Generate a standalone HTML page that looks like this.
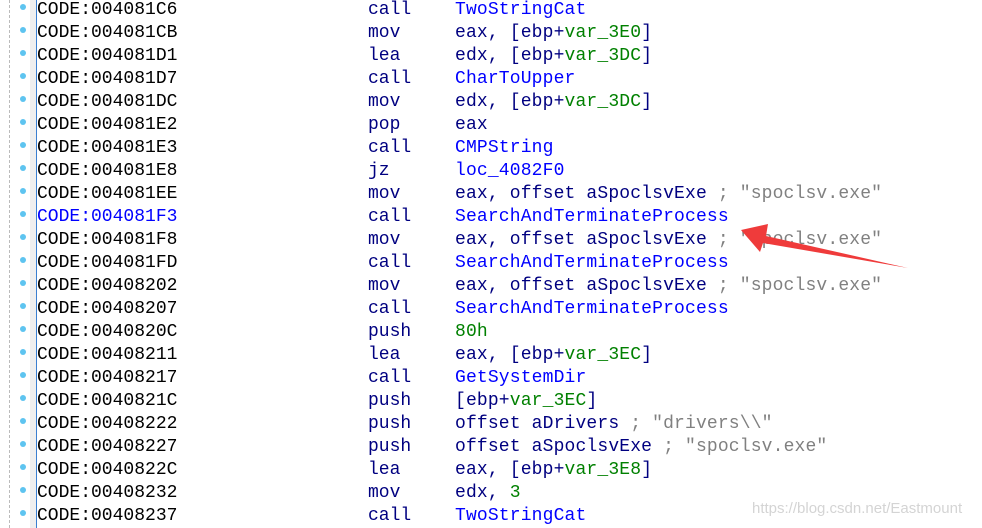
<!DOCTYPE html>
<html><head><meta charset="utf-8"><style>
body{margin:0;width:982px;height:528px;background:#fff;overflow:hidden;position:relative;font-family:"Liberation Mono",monospace;}
.r{position:absolute;left:0;height:23px;line-height:23px;font-size:18px;white-space:pre;width:982px}
.a{position:absolute;left:37px;color:#000}
.m{position:absolute;left:368px;color:#000080}
.o{position:absolute;left:455px;color:#000080;letter-spacing:0.15px}
.n{color:#0000ff}.g{color:#008000}.c{color:#808080}
.d{position:absolute;left:20px;top:5px;width:6px;height:6px;border-radius:50%;background:#5ec4f0}
</style></head><body>
<div style="position:absolute;left:9px;top:0;height:528px;border-left:1px dashed #bbb"></div>
<div style="position:absolute;left:30px;top:0;width:6px;height:528px;background:#efefef"></div>
<div style="position:absolute;left:36px;top:0;width:1px;height:528px;background:#3b7fd0"></div>
<div class="r" style="top:-1px"><i class="d"></i><span class="a">CODE:004081C6</span><span class="m">call</span><span class="o n">TwoStringCat</span></div>
<div class="r" style="top:22px"><i class="d"></i><span class="a">CODE:004081CB</span><span class="m">mov</span><span class="o">eax, [ebp+<span class="g">var_3E0</span>]</span></div>
<div class="r" style="top:45px"><i class="d"></i><span class="a">CODE:004081D1</span><span class="m">lea</span><span class="o">edx, [ebp+<span class="g">var_3DC</span>]</span></div>
<div class="r" style="top:68px"><i class="d"></i><span class="a">CODE:004081D7</span><span class="m">call</span><span class="o n">CharToUpper</span></div>
<div class="r" style="top:91px"><i class="d"></i><span class="a">CODE:004081DC</span><span class="m">mov</span><span class="o">edx, [ebp+<span class="g">var_3DC</span>]</span></div>
<div class="r" style="top:114px"><i class="d"></i><span class="a">CODE:004081E2</span><span class="m">pop</span><span class="o">eax</span></div>
<div class="r" style="top:137px"><i class="d"></i><span class="a">CODE:004081E3</span><span class="m">call</span><span class="o n">CMPString</span></div>
<div class="r" style="top:160px"><i class="d"></i><span class="a">CODE:004081E8</span><span class="m">jz</span><span class="o n">loc_4082F0</span></div>
<div class="r" style="top:183px"><i class="d"></i><span class="a">CODE:004081EE</span><span class="m">mov</span><span class="o">eax, offset aSpoclsvExe <span class="c">; "spoclsv.exe"</span></span></div>
<div class="r" style="top:206px"><i class="d"></i><span class="a" style="color:#0000ff">CODE:004081F3</span><span class="m">call</span><span class="o n">SearchAndTerminateProcess</span></div>
<div class="r" style="top:229px"><i class="d"></i><span class="a">CODE:004081F8</span><span class="m">mov</span><span class="o">eax, offset aSpoclsvExe <span class="c">; "spoclsv.exe"</span></span></div>
<div class="r" style="top:252px"><i class="d"></i><span class="a">CODE:004081FD</span><span class="m">call</span><span class="o n">SearchAndTerminateProcess</span></div>
<div class="r" style="top:275px"><i class="d"></i><span class="a">CODE:00408202</span><span class="m">mov</span><span class="o">eax, offset aSpoclsvExe <span class="c">; "spoclsv.exe"</span></span></div>
<div class="r" style="top:298px"><i class="d"></i><span class="a">CODE:00408207</span><span class="m">call</span><span class="o n">SearchAndTerminateProcess</span></div>
<div class="r" style="top:321px"><i class="d"></i><span class="a">CODE:0040820C</span><span class="m">push</span><span class="o g">80h</span></div>
<div class="r" style="top:344px"><i class="d"></i><span class="a">CODE:00408211</span><span class="m">lea</span><span class="o">eax, [ebp+<span class="g">var_3EC</span>]</span></div>
<div class="r" style="top:367px"><i class="d"></i><span class="a">CODE:00408217</span><span class="m">call</span><span class="o n">GetSystemDir</span></div>
<div class="r" style="top:390px"><i class="d"></i><span class="a">CODE:0040821C</span><span class="m">push</span><span class="o">[ebp+<span class="g">var_3EC</span>]</span></div>
<div class="r" style="top:413px"><i class="d"></i><span class="a">CODE:00408222</span><span class="m">push</span><span class="o">offset aDrivers <span class="c">; "drivers\\"</span></span></div>
<div class="r" style="top:436px"><i class="d"></i><span class="a">CODE:00408227</span><span class="m">push</span><span class="o">offset aSpoclsvExe <span class="c">; "spoclsv.exe"</span></span></div>
<div class="r" style="top:459px"><i class="d"></i><span class="a">CODE:0040822C</span><span class="m">lea</span><span class="o">eax, [ebp+<span class="g">var_3E8</span>]</span></div>
<div class="r" style="top:482px"><i class="d"></i><span class="a">CODE:00408232</span><span class="m">mov</span><span class="o">edx, <span class="g">3</span></span></div>
<div class="r" style="top:505px"><i class="d"></i><span class="a">CODE:00408237</span><span class="m">call</span><span class="o n">TwoStringCat</span></div>
<svg style="position:absolute;left:0;top:0" width="982" height="528">
<polygon points="741,230 768,224 766,236 908,268 763,243 760,252" fill="#ef3b3b"/>
</svg>
<div style="position:absolute;left:752px;top:500px;font-family:'Liberation Sans',sans-serif;font-size:15px;color:#d4d4d4">https://blog.csdn.net/Eastmount</div>
</body></html>
